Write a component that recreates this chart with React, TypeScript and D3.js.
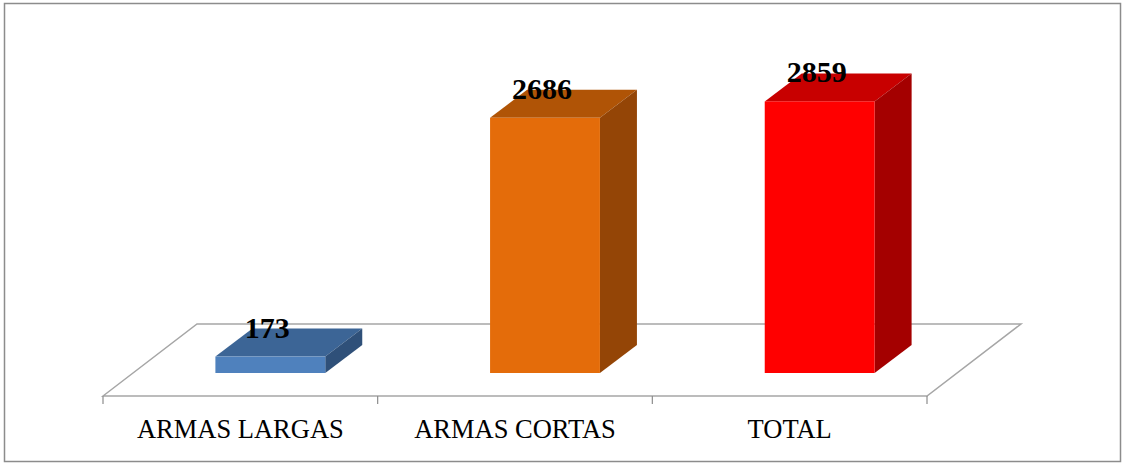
import React from 'react';
import * as d3 from 'd3';

const categories = ['ARMAS LARGAS', 'ARMAS CORTAS', 'TOTAL'];
const values = [173, 2686, 2859];
const valueLabels = ['173', '2686', '2859'];

// face colours: front, top, side
const palette = [
  ['#4f81bd', '#3c6596', '#2f5079'],
  ['#e46c0a', '#b05406', '#944506'],
  ['#ff0000', '#c80000', '#a40000'],
];

const W = 1123;
const H = 464;

// floor geometry (front edge + depth vector)
const floorLeft = 103;
const floorRight = 927;
const floorY = 396;
const depthX = 94;
const depthY = -72;
// bars sit part way into the floor and are shallower than it
const barShiftX = 30;
const barShiftY = -23;
const barDepthX = 37;
const barDepthY = -28;

const serif = "'Liberation Serif', 'Times New Roman', serif";

const App = () => {
  const x = d3.scaleBand<string>().domain(categories).range([floorLeft, floorRight]).paddingInner(0).paddingOuter(0);
  const base = floorY + barShiftY;
  const y = d3.scaleLinear().domain([0, 3000]).range([base, base - 285]);
  const barW = x.bandwidth() * 0.4;

  const floor = [
    [floorLeft, floorY],
    [floorLeft + depthX, floorY + depthY],
    [floorRight + depthX, floorY + depthY],
    [floorRight, floorY],
  ];

  const ticks = [...categories.map(c => x(c) as number), floorRight];

  return (
    <svg width={W} height={H} style={{ position: 'absolute', left: 0, top: 0 }}>
      <rect x={0} y={0} width={W} height={H} fill="#fff" />
      <rect x={4.5} y={3.5} width={1116} height={458} fill="#fff" stroke="#8c8c8c" strokeWidth={1.5} />

      <polygon points={floor.map(p => p.join(',')).join(' ')} fill="#fff" stroke="#a6a6a6" strokeWidth={1.5} />
      {ticks.map((t, i) => (
        <line key={i} x1={t} x2={t} y1={floorY} y2={floorY + 8} stroke="#8c8c8c" strokeWidth={1.2} />
      ))}

      {categories.map((c, i) => {
        const x0 = (x(c) as number) + (x.bandwidth() - barW) / 2 + barShiftX;
        const x1 = x0 + barW;
        const yt = y(values[i]);
        const [front, top, side] = palette[i];
        return (
          <g key={c}>
            <polygon
              points={`${x0},${yt} ${x0 + barDepthX},${yt + barDepthY} ${x1 + barDepthX},${yt + barDepthY} ${x1},${yt}`}
              fill={top}
            />
            <polygon
              points={`${x1},${yt} ${x1 + barDepthX},${yt + barDepthY} ${x1 + barDepthX},${base + barDepthY} ${x1},${base}`}
              fill={side}
            />
            <rect x={x0} y={yt} width={barW} height={base - yt} fill={front} />
            <text
              x={(x0 + x1) / 2 - 3}
              y={yt - 19}
              textAnchor="middle"
              fontFamily={serif}
              fontWeight="bold"
              fontSize={30}
              fill="#000"
            >
              {valueLabels[i]}
            </text>
            <text
              x={(x(c) as number) + x.bandwidth() / 2}
              y={438}
              textAnchor="middle"
              fontFamily={serif}
              fontSize={26.5}
              fill="#000"
            >
              {c}
            </text>
          </g>
        );
      })}
    </svg>
  );
};

export default App;
